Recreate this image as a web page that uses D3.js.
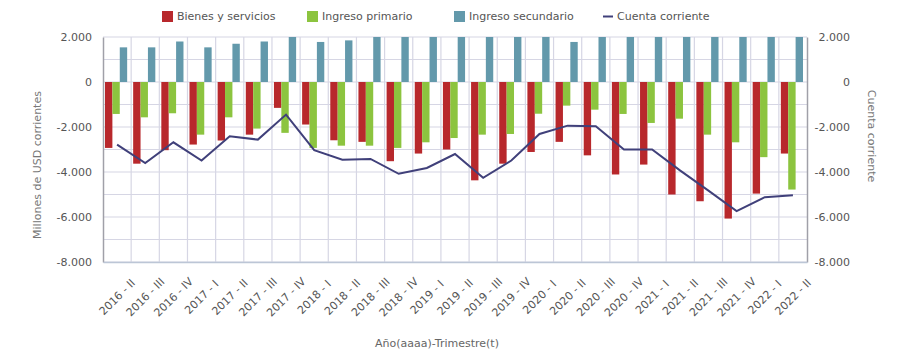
<!DOCTYPE html>
<html>
<head>
<meta charset="utf-8">
<script src="https://cdn.jsdelivr.net/npm/d3@7"></script>
<style>
  body { margin: 0; background: #fff; }
  text { font-family: "DejaVu Sans", sans-serif; }
</style>
</head>
<body>
<div id="chart"></div>
<script>
const categories = ['2016 - II', '2016 - III', '2016 - IV', '2017 - I', '2017 - II', '2017 - III', '2017 - IV',
  '2018 - I', '2018 - II', '2018 - III', '2018 - IV', '2019 - I', '2019 - II', '2019 - III', '2019 - IV',
  '2020 - I', '2020 - II', '2020 - III', '2020 - IV', '2021 - I', '2021 - II', '2021 - III', '2021 - IV',
  '2022 - I', '2022 - II'];

const bienes = [-2930, -3630, -3030, -2780, -2600, -2340, -1150, -1890, -2590, -2660, -3520, -3180, -3000,
  -4370, -3630, -3110, -2660, -3260, -4110, -3670, -5000, -5300, -6070, -4960, -3180];
const primario = [-1420, -1570, -1390, -2340, -1570, -2070, -2260, -2930, -2830, -2830, -2930, -2680, -2490,
  -2340, -2310, -1410, -1050, -1230, -1420, -1820, -1630, -2340, -2680, -3340, -4780];
// the taller ones are cut off at 2.000 in the picture
const secundario = [1540, 1540, 1800, 1540, 1700, 1800, 2000, 1780, 1850, 2070, 2370, 2000, 2290,
  2450, 2450, 2210, 1780, 2520, 2530, 2490, 2690, 2810, 3010, 3180, 2930];
const cuenta = [-2780, -3600, -2680, -3490, -2410, -2560, -1450, -3030, -3450, -3420, -4080, -3820, -3200,
  -4260, -3490, -2310, -1940, -1970, -3000, -3000, -3940, -4830, -5740, -5120, -5030];

const yTicks = [2000, 0, -2000, -4000, -6000, -8000];

const series = [
  {name: 'Bienes y servicios', values: bienes, color: '#b8282c'},
  {name: 'Ingreso primario', values: primario, color: '#8cc43f'},
  {name: 'Ingreso secundario', values: secundario, color: '#6399ab'}
];
const lineColor = '#40407a';

const width = 920, height = 362;
const margin = {top: 37, right: 113, bottom: 100, left: 103};

let svg = d3.select('#chart').append('svg')
    .attr('width', width)
    .attr('height', height);

let x = d3.scaleBand()
    .domain(categories)
    .range([margin.left, width - margin.right]);

let xSub = d3.scaleBand()
    .domain(series.map(s => s.name))
    .range([2, x.bandwidth() - 4]);

let y = d3.scaleLinear()
    .domain([-8000, 2000])
    .range([height - margin.bottom, margin.top]);

// plain hyphen and dot thousands, like the original
const fmt = v => (v < 0 ? '-' : '') + d3.format(',')(Math.abs(v)).replace(/,/g, '.');

// grid
let grid = svg.append('g');
grid.selectAll('.hgrid')
    .data(d3.range(-8000, 2001, 1000))
    .enter().append('line')
    .attr('x1', margin.left).attr('x2', width - margin.right)
    .attr('y1', d => y(d)).attr('y2', d => y(d))
    .attr('stroke', '#d6d6e4').attr('stroke-width', 1.2);
grid.selectAll('.vgrid')
    .data(categories.slice(1))
    .enter().append('line')
    .attr('x1', d => x(d)).attr('x2', d => x(d))
    .attr('y1', margin.top).attr('y2', height - margin.bottom)
    .attr('stroke', '#d6d6e4').attr('stroke-width', 1.2);

svg.append('clipPath').attr('id', 'plot-clip')
    .append('rect')
    .attr('x', margin.left).attr('y', margin.top)
    .attr('width', width - margin.left - margin.right)
    .attr('height', height - margin.top - margin.bottom);

// bars
let bars = svg.append('g').attr('clip-path', 'url(#plot-clip)');
series.forEach(s => {
  bars.selectAll(null)
      .data(s.values)
      .enter().append('rect')
      .attr('x', (d, i) => x(categories[i]) + xSub(s.name))
      .attr('width', xSub.bandwidth())
      .attr('y', d => y(Math.max(0, d)))
      .attr('height', d => Math.abs(y(d) - y(0)))
      .attr('fill', s.color);
});

// line
let line = d3.line()
    .x((d, i) => x(categories[i]) + x.bandwidth() / 2)
    .y(d => y(d));
svg.append('path')
    .datum(cuenta)
    .attr('d', line)
    .attr('fill', 'none')
    .attr('stroke', lineColor)
    .attr('stroke-width', 2);

// axes
let leftAxis = svg.append('g')
    .attr('transform', 'translate(' + margin.left + ',0)')
    .call(d3.axisLeft(y).tickValues(yTicks).tickFormat(fmt).tickSize(0).tickPadding(11));
let rightAxis = svg.append('g')
    .attr('transform', 'translate(' + (width - margin.right) + ',0)')
    .call(d3.axisRight(y).tickValues(yTicks).tickFormat(fmt).tickSize(0).tickPadding(10));
rightAxis.selectAll('text').attr('text-anchor', 'end').attr('dx', 33);
leftAxis.select('.domain').attr('stroke', '#a0a0a8').attr('stroke-width', 1.5);
rightAxis.select('.domain').attr('stroke', '#a0a0a8').attr('stroke-width', 1.5);
[leftAxis, rightAxis].forEach(a => a.selectAll('text')
    .attr('fill', '#555').style('font-size', '11px').style('font-family', '"DejaVu Sans", sans-serif'));

let bottomAxis = svg.append('g')
    .attr('transform', 'translate(0,' + (height - margin.bottom) + ')')
    .call(d3.axisBottom(x).tickSize(0).tickPadding(0));
bottomAxis.select('.domain').attr('stroke', '#bcc6d6').attr('stroke-width', 1.5);
bottomAxis.selectAll('text')
    .attr('fill', '#555')
    .style('font-size', '11px')
    .style('font-family', '"DejaVu Sans", sans-serif')
    .attr('text-anchor', 'middle')
    .attr('y', 0)
    .attr('dy', '0.35em')
    .attr('transform', 'translate(0,35) rotate(-45)');

// titles
svg.append('text')
    .attr('transform', 'translate(41,165) rotate(-90)')
    .attr('text-anchor', 'middle')
    .attr('fill', '#777').style('font-size', '11px')
    .text('Millones de USD corrientes');
svg.append('text')
    .attr('transform', 'translate(868,136) rotate(90)')
    .attr('text-anchor', 'middle')
    .attr('fill', '#777').style('font-size', '11px')
    .text('Cuenta corriente');
svg.append('text')
    .attr('x', 437).attr('y', 347)
    .attr('text-anchor', 'middle')
    .attr('fill', '#666').style('font-size', '11px')
    .text('Año(aaaa)-Trimestre(t)');

// legend
const legendX = [162, 307, 454, 603];
let legend = svg.append('g');
series.forEach((s, i) => {
  legend.append('rect')
      .attr('x', legendX[i]).attr('y', 11)
      .attr('width', 11).attr('height', 11)
      .attr('fill', s.color);
  legend.append('text')
      .attr('x', legendX[i] + 15).attr('y', 16.5).attr('dy', '0.35em')
      .attr('fill', '#555').style('font-size', '11px')
      .text(s.name);
});
legend.append('line')
    .attr('x1', legendX[3]).attr('x2', legendX[3] + 10)
    .attr('y1', 16.5).attr('y2', 16.5)
    .attr('stroke', lineColor).attr('stroke-width', 2);
legend.append('text')
    .attr('x', legendX[3] + 14).attr('y', 16.5).attr('dy', '0.35em')
    .attr('fill', '#555').style('font-size', '11px')
    .text('Cuenta corriente');
</script>
</body>
</html>
